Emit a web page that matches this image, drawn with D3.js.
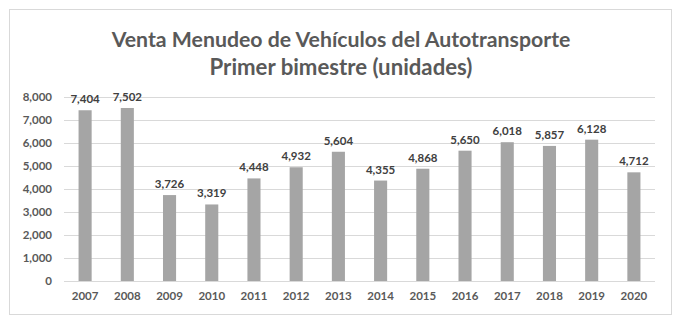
<!DOCTYPE html>
<html><head><meta charset="utf-8">
<script src="https://cdn.jsdelivr.net/npm/d3@7"></script>
<style>body{margin:0;background:#fff}svg{display:block}</style>
</head><body>
<svg id="c" width="683" height="324"></svg>
<script>
const years = ["2007","2008","2009","2010","2011","2012","2013","2014","2015","2016","2017","2018","2019","2020"];
const values = [7404,7502,3726,3319,4448,4932,5604,4355,4868,5650,6018,5857,6128,4712];
const yTicks = [0,1000,2000,3000,4000,5000,6000,7000,8000];
const titleLines = ["Venta Menudeo de Vehículos del Autotransporte","Primer bimestre (unidades)"];

const svg = d3.select("#c");
const font = "Lato, 'Open Sans', sans-serif";
svg.append("rect").attr("x",9.5).attr("y",9.5).attr("width",662).attr("height",305)
  .attr("fill","#fff").attr("stroke","#d9d9d9");

const x = d3.scaleBand().domain(years).range([64,655]).paddingInner(0.69).paddingOuter(0.345);
const y = d3.scaleLinear().domain([0,8000]).range([281,96.5]);
const fmt = d3.format(",");

// gridlines
svg.append("g").selectAll("line").data(yTicks).join("line")
  .attr("x1",64).attr("x2",655).attr("y1",d=>Math.round(y(d))+0.5).attr("y2",d=>Math.round(y(d))+0.5)
  .attr("stroke","#d9d9d9").attr("stroke-width",1);

// y axis labels
const yAxis = d3.axisLeft(y).tickValues(yTicks).tickFormat(fmt).tickSize(0).tickPadding(0);
const ya = svg.append("g").attr("transform","translate(52,0)").call(yAxis);
ya.select(".domain").remove();
ya.selectAll("text").attr("font-family",font).attr("font-size",11.5).attr("font-weight","bold").attr("fill","#595959");

// x axis labels
const xAxis = d3.axisBottom(x).tickSize(0).tickPadding(0);
const xa = svg.append("g").attr("transform","translate(0,292)").call(xAxis);
xa.select(".domain").remove();
xa.selectAll("text").attr("font-family",font).attr("font-size",11.5).attr("font-weight","bold").attr("fill","#595959");

// bars
svg.append("g").selectAll("rect").data(values).join("rect")
  .attr("x",(d,i)=>x(years[i])).attr("width",x.bandwidth())
  .attr("y",d=>y(d)).attr("height",d=>y(0)-y(d)).attr("fill","#a5a5a5");

// value labels
svg.append("g").selectAll("text").data(values).join("text")
  .attr("x",(d,i)=>x(years[i])+x.bandwidth()/2).attr("y",d=>y(d)-7)
  .attr("text-anchor","middle").attr("font-family",font).attr("font-size",11.5)
  .attr("font-weight","bold").attr("fill","#404040").text(d=>fmt(d));

// title
const tw = [459, 263];
svg.append("g").selectAll("text").data(titleLines).join("text")
  .attr("x",341).attr("y",(d,i)=>47+i*28).attr("text-anchor","middle")
  .attr("font-family",font).attr("font-size",21).attr("font-weight","bold").attr("fill","#595959")
  .text(d=>d)
  .each(function(d,i){ const l=this.getComputedTextLength(); const s=21*tw[i]/l; d3.select(this).attr("font-size",Math.min(26,Math.max(16,s))); });
</script>
</body></html>
